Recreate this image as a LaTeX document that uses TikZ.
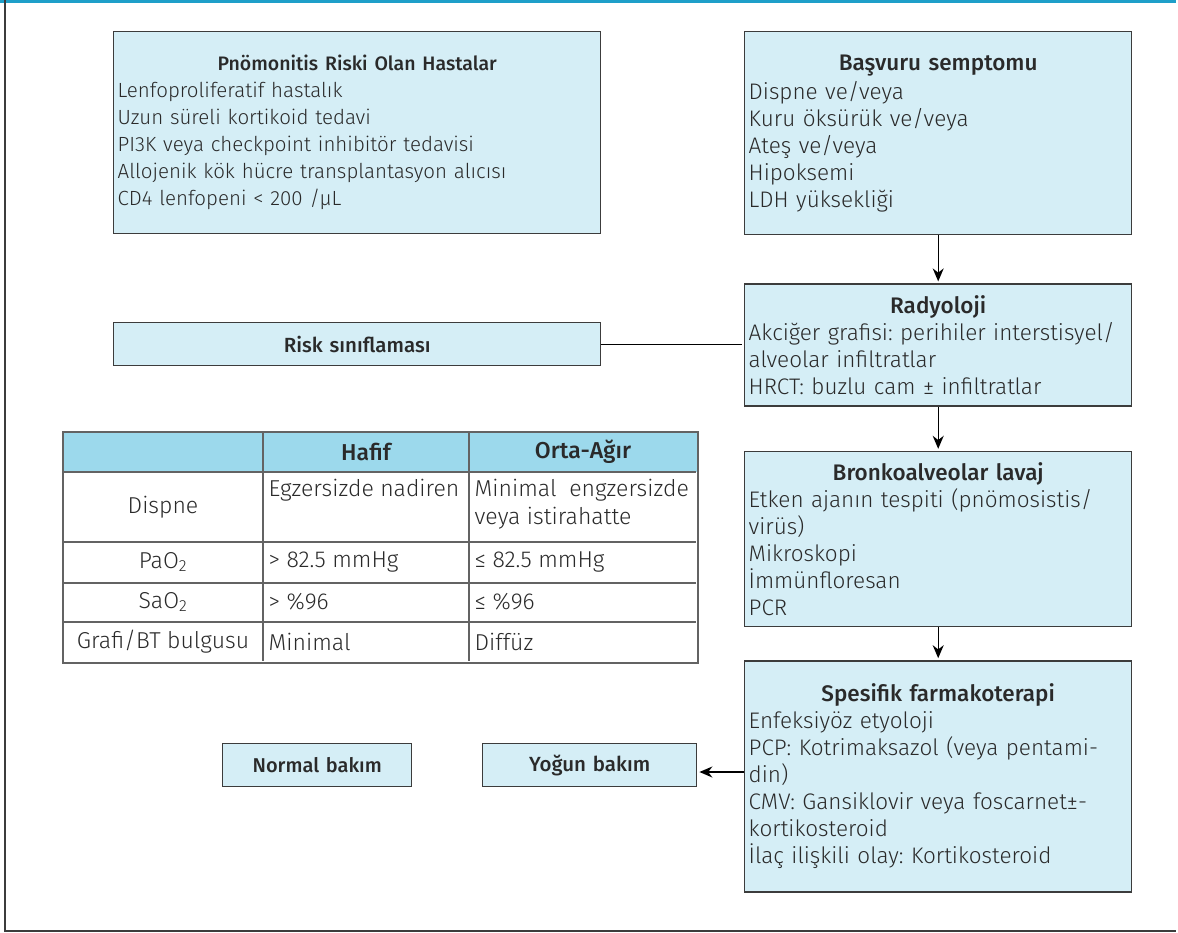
\documentclass[tikz,border=0pt]{standalone}
\usepackage{fontspec}
\setmainfont{Fira Sans Light}[BoldFont={Fira Sans Medium}]
\usetikzlibrary{arrows.meta,positioning}
\frenchspacing

\definecolor{kutumavi}{HTML}{D5EEF6}
\definecolor{basmavi}{HTML}{9CD9EC}
\definecolor{cerceve}{HTML}{1E9FC9}
\definecolor{yazi}{HTML}{2A2A2A}
\definecolor{kenar}{HTML}{3C3C3C}

\newcommand{\baslik}[1]{\makebox[\linewidth][c]{\bfseries #1}}
\newcommand{\solyazi}{\fontsize{20.5}{27}\selectfont}
\newcommand{\sagyazi}{\fontsize{22.5}{27}\selectfont}
\newcommand{\tabloyazi}{\fontsize{23}{28}\selectfont}

\begin{document}
\begin{tikzpicture}[
    x = 1pt, y = -1pt, % pixel units
    > = {Stealth[length=13pt,width=11pt]}, % arrow head style
    shorten > = 2pt, % don't touch arrow head to node
    line width = 1.4pt,
    font = \solyazi,
    text = yazi
    ]

    \tikzset{kutu/.style={
    draw = kenar,
    fill = kutumavi,
    rectangle,
    align = left,
    inner xsep = 4pt,
    inner ysep = 0pt,
    anchor = north west
    }}
    \tikzset{sagkutu/.style={kutu, font = \sagyazi, text width = 379pt}}
    \tikzset{tablo/.style={draw = kenar!80, line width = 1.2pt}}
    \tikzset{hucre/.style={inner sep = 3pt, font = \tabloyazi}}

    \useasboundingbox (0,0) rectangle (1178,933);

    % frame
    \draw[cerceve, line width = 3pt] (0,1.5) -- (1178,1.5);
    \draw[kenar, line width = 1.5pt] (5,0) -- (5,931) -- (1178,931);

    % left column
    \node[kutu, text width = 479pt, minimum height = 202pt] (hastalar) at (113,31) {%
        \baslik{\fontsize{19.5}{27}\selectfont Pnömonitis Riski Olan Hastalar}\\
        Lenfoproliferatif hastalık\\
        Uzun süreli kortikoid tedavi\\
        PI3K veya checkpoint inhibitör tedavisi\\
        Allojenik kök hücre transplantasyon alıcısı\\
        CD4 lenfopeni < 200 /µL};
    \node[kutu, text width = 479pt, minimum height = 43pt, align = center] (risk) at (113,322) {\bfseries Risk sınıflaması};

    % right column
    \node[sagkutu, minimum height = 203pt] (basvuru) at (744,31) {%
        \baslik{Başvuru semptomu}\\[2pt]
        Dispne ve/veya\\
        Kuru öksürük ve/veya\\
        Ateş ve/veya\\
        Hipoksemi\\
        LDH yüksekliği};
    \node[sagkutu, minimum height = 122pt, below = 48pt of basvuru] (radyoloji) {%
        \baslik{Radyoloji}\\
        Akciğer grafisi: perihiler interstisyel/\\
        alveolar infiltratlar\\
        HRCT: buzlu cam ± infiltratlar};
    \node[sagkutu, minimum height = 175pt, below = 44pt of radyoloji] (lavaj) {%
        \baslik{Bronkoalveolar lavaj}\\
        Etken ajanın tespiti (pnömosistis/\\
        virüs)\\
        Mikroskopi\\
        İmmünfloresan\\
        PCR};
    \node[sagkutu, minimum height = 231pt, below = 33pt of lavaj] (tedavi) {%
        \baslik{Spesifik farmakoterapi}\\
        Enfeksiyöz etyoloji\\
        PCP: Kotrimaksazol (veya pentami-\\
        din)\\
        CMV: Gansiklovir veya foscarnet±-\\
        kortikosteroid\\
        İlaç ilişkili olay: Kortikosteroid};

    % care boxes
    \node[kutu, text width = 181pt, minimum height = 43pt, align = center, font = \fontsize{20}{27}\selectfont] (normal) at (222,743) {\bfseries Normal bakım};
    \node[kutu, text width = 206pt, minimum height = 43pt, align = center, font = \fontsize{20.5}{27}\selectfont] (yogun) at (482,743) {\bfseries Yoğun bakım};

    % risk table
    \fill[basmavi] (63,432) rectangle (698,472);
    \draw[tablo] (63,432) rectangle (698,663);
    \foreach \y in {472,542,583,622}
        \draw[tablo] (63,\y) -- (698,\y);
    \foreach \x in {263,469}
        \draw[tablo] (\x,432) -- (\x,663);
    \node[hucre] (hafif) at (366,452) {\bfseries Hafif};
    \node[hucre] (orta) at (583,452) {\bfseries Orta-Ağır};
    \node[hucre] (dispne) at (163,507) {Dispne};
    \node[hucre, anchor = north west] (dhafif) at (265,475) {Egzersizde nadiren};
    \node[hucre, anchor = north west, align = left] (dorta) at (471,475) {Minimal\ \ engzersizde\\veya istirahatte};
    \node[hucre] (pao) at (163,562) {PaO\textsubscript{2}};
    \node[hucre, anchor = west] (paohafif) at (265,562) {> 82.5 mmHg};
    \node[hucre, anchor = west] (paoorta) at (471,562) {≤ 82.5 mmHg};
    \node[hucre] (sao) at (163,602) {SaO\textsubscript{2}};
    \node[hucre, anchor = west] (saohafif) at (265,602) {> \%96};
    \node[hucre, anchor = west] (saoorta) at (471,602) {≤ \%96};
    \node[hucre] (grafi) at (163,642) {Grafi/BT bulgusu};
    \node[hucre, anchor = west] (grafihafif) at (265,642) {Minimal};
    \node[hucre, anchor = west] (grafiorta) at (471,642) {Diffüz};

    % connectors
    \coordinate (okyeri) at (720,772);
    \path[->] (basvuru) edge (radyoloji)
              (radyoloji) edge (lavaj)
              (lavaj) edge (tedavi);
    \draw (risk.east) -- (risk.east -| radyoloji.west);
    \draw[->] (tedavi.west |- okyeri) -- (yogun.east |- okyeri);
\end{tikzpicture}
\end{document}
